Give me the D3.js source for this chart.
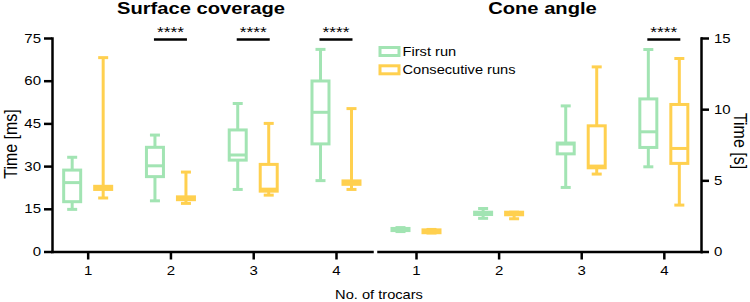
<!DOCTYPE html>
<meta charset="utf-8">
<style>
body { margin: 0; background: #fff; }
text { font-family: "Liberation Sans", Arial, sans-serif; fill: #000; }
.axis path, .axis line { stroke: #000; stroke-width: 2.5px; }
.axis text { font-size: 12.5px; }
</style>
<body>
<script src="https://d3js.org/d3.v7.min.js"></script>
<script>

// Data: [min, q1, median, q3, max] per number of trocars
var trocars = [1, 2, 3, 4];
var seriesNames = ["First run", "Consecutive runs"];
var surfaceFirst  = [[14.8, 17.5, 24.2, 28.6, 33.1], [17.8, 26.3, 30.1, 36.6, 40.9],
                     [21.8, 32.1, 33.9, 42.7, 52.0], [24.9, 37.8, 48.9, 59.9, 71.0]];
var surfaceConsec = [[18.8, 21.8, 22.3, 22.9, 68.1], [16.9, 18.2, 18.6, 19.2, 27.9],
                     [19.8, 21.2, 21.9, 30.6, 45.0], [21.8, 23.6, 24.1, 24.8, 50.2]];
var coneFirst  = [[1.40, 1.47, 1.55, 1.62, 1.68], [2.33, 2.60, 2.68, 2.76, 3.02],
                  [4.50, 6.86, 7.55, 7.62, 10.23], [5.95, 7.31, 8.41, 10.72, 14.19]];
var coneConsec = [[1.30, 1.32, 1.42, 1.52, 1.55], [2.30, 2.58, 2.62, 2.76, 2.76],
                  [5.44, 5.88, 6.00, 8.83, 12.97], [3.26, 6.19, 7.24, 10.33, 13.56]];
var surfaceTicks = [0, 15, 30, 45, 60, 75];
var coneTicks = [0, 5, 10, 15];
var surfaceSig = [2, 3, 4];
var coneSig = [4];

var colors = ["#a2e4b3", "#ffd04f"];
var W = 750, H = 302;
var yTop = 38, yBottom = 251.5;
var sx = 1.2; // text in the original is a bit wide

var svg = d3.select("body").append("svg")
    .attr("width", W)
    .attr("height", H);

var xLeft = d3.scaleLinear().domain([0.569, 4.435]).range([52, 372]);
var xRight = d3.scaleLinear().domain([0.54, 4.45]).range([378, 701]);
var yLeft = d3.scaleLinear().domain([0, 75]).range([yBottom, yTop]);
var yRight = d3.scaleLinear().domain([0, 15]).range([yBottom, yTop]);

// move x/y into a transform so the text can be widened
function stretch(sel) {
  sel.each(function() {
    var t = d3.select(this);
    var x = +t.attr("x") || 0, y = +t.attr("y") || 0;
    t.attr("x", null).attr("y", null)
     .attr("transform", "translate(" + x + "," + y + ") scale(" + sx + ",1)");
  });
}

function drawPanel(x, y, first, consec, sig) {
  var g = svg.append("g");
  var off = 15.5, bw = 17, cw = 10;
  [first, consec].forEach(function(series, si) {
    var col = colors[si];
    series.forEach(function(d, i) {
      var cx = x(trocars[i]) + (si === 0 ? -off : off);
      var b = g.append("g")
          .attr("stroke", col)
          .attr("stroke-width", 3)
          .attr("fill", "none");
      // whiskers
      b.append("line").attr("x1", cx).attr("x2", cx).attr("y1", y(d[0])).attr("y2", y(d[1]));
      b.append("line").attr("x1", cx).attr("x2", cx).attr("y1", y(d[3])).attr("y2", y(d[4]));
      b.append("line").attr("x1", cx - cw / 2).attr("x2", cx + cw / 2).attr("y1", y(d[0])).attr("y2", y(d[0]));
      b.append("line").attr("x1", cx - cw / 2).attr("x2", cx + cw / 2).attr("y1", y(d[4])).attr("y2", y(d[4]));
      // box
      b.append("rect")
          .attr("x", cx - bw / 2)
          .attr("y", y(d[3]))
          .attr("width", bw)
          .attr("height", Math.max(0, y(d[1]) - y(d[3])));
      b.append("line").attr("x1", cx - bw / 2).attr("x2", cx + bw / 2).attr("y1", y(d[2])).attr("y2", y(d[2]));
    });
  });
  // significance bars
  sig.forEach(function(t) {
    var cx = x(t);
    g.append("line")
        .attr("x1", cx - off - 1).attr("x2", cx + off + 1)
        .attr("y1", 39.5).attr("y2", 39.5)
        .attr("stroke", "#000").attr("stroke-width", 2.5);
    g.append("text")
        .attr("x", cx).attr("y", 37)
        .attr("text-anchor", "middle")
        .attr("font-size", "14.5px")
        .text("****")
        .call(stretch);
  });
  // x axis
  svg.append("g")
      .attr("class", "axis")
      .attr("transform", "translate(0," + yBottom + ")")
      .call(d3.axisBottom(x).tickValues(trocars).tickSize(8).tickSizeOuter(0).tickPadding(7).tickFormat(d3.format("d")))
      .selectAll("text").call(stretch);
}

drawPanel(xLeft, yLeft, surfaceFirst, surfaceConsec, surfaceSig);
drawPanel(xRight, yRight, coneFirst, coneConsec, coneSig);

// y axes
svg.append("g")
    .attr("class", "axis")
    .attr("transform", "translate(52,0)")
    .call(d3.axisLeft(yLeft).tickValues(surfaceTicks).tickSize(8).tickSizeOuter(0).tickPadding(3))
    .selectAll("text").call(stretch);
svg.append("g")
    .attr("class", "axis")
    .attr("transform", "translate(701,0)")
    .call(d3.axisRight(yRight).tickValues(coneTicks).tickSize(8).tickSizeOuter(0).tickPadding(5))
    .selectAll("text").call(stretch);

svg.selectAll(".axis path").attr("stroke-linecap", "square");

// titles
svg.append("text").attr("x", 201).attr("y", 14).attr("text-anchor", "middle")
    .attr("font-size", "16.8px").attr("font-weight", "bold").text("Surface coverage").call(stretch);
svg.append("text").attr("x", 542.5).attr("y", 14).attr("text-anchor", "middle")
    .attr("font-size", "16.8px").attr("font-weight", "bold").text("Cone angle").call(stretch);

// axis labels
svg.append("text").attr("transform", "translate(16.5,144) rotate(-90) scale(1,1.1)")
    .attr("text-anchor", "middle").attr("font-size", "16px").text("Time [ms]");
svg.append("text").attr("transform", "translate(733.5,141) rotate(90) scale(1,1.1)")
    .attr("text-anchor", "middle").attr("font-size", "16px").text("Time [s]");
svg.append("text").attr("x", 379).attr("y", 299).attr("text-anchor", "middle")
    .attr("font-size", "12.2px").text("No. of trocars").call(stretch);

// legend
var legend = svg.append("g").attr("transform", "translate(379,46)");
seriesNames.forEach(function(name, i) {
  legend.append("rect")
      .attr("x", 1).attr("y", i * 18.3 + 1.5)
      .attr("width", 19).attr("height", 8)
      .attr("fill", "none").attr("stroke", colors[i]).attr("stroke-width", 3);
  legend.append("text")
      .attr("x", 23.5).attr("y", i * 18.3 + 10)
      .attr("font-size", "12.2px")
      .text(name)
      .call(stretch);
});

</script>
</body>
